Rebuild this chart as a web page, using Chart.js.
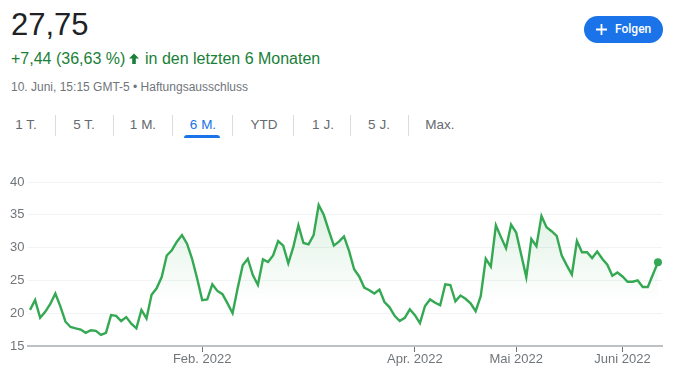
<!DOCTYPE html>
<html lang="de">
<head>
<meta charset="utf-8">
<script src="https://cdn.jsdelivr.net/npm/chart.js@4.4.0/dist/chart.umd.min.js"></script>
<style>
  html, body { margin: 0; padding: 0; background: #fff; }
  body { width: 693px; height: 374px; position: relative; overflow: hidden;
         font-family: "Liberation Sans", Arial, sans-serif; }
  .price { position: absolute; left: 11px; top: 9px; font-size: 31px; line-height: 31px; color: #202124; }
  .change { position: absolute; left: 11px; top: 51px; font-size: 16px; line-height: 16px; color: #188038;
            white-space: nowrap; }
  .change svg { position: absolute; left: 117px; top: 1px; }
  .change .rest { position: absolute; left: 134px; top: 0; }
  .stamp { position: absolute; left: 11px; top: 81px; font-size: 12px; line-height: 12px; color: #70757a;
           white-space: nowrap; }
  .tab { position: absolute; top: 118px; font-size: 13.5px; line-height: 14px; color: #666a70;
         transform: translateX(-50%); white-space: nowrap; }
  .tab.active { color: #1a73e8; }
  .sep { position: absolute; top: 115px; width: 1px; height: 21px; background: #dadce0; }
  .underline { position: absolute; left: 184px; top: 135px; width: 36px; height: 3px;
               background: #1a73e8; border-radius: 3px 3px 0 0; }
  .follow { position: absolute; left: 584px; top: 16px; width: 79px; height: 27px; border-radius: 14px;
            background: #1a73e8; color: #fff; font-family: Roboto, sans-serif; font-weight: 500; font-size: 12px; }
  .follow svg { position: absolute; left: 12px; top: 8px; }
  .follow span { position: absolute; left: 31px; top: 7px; line-height: 13px; }
  .chart-wrap { position: absolute; left: 0; top: 170px; width: 693px; height: 204px; }
</style>
</head>
<body>
<div class="price">27,75</div>
<div class="change">+7,44 (36,63 %)
  <svg width="12" height="13" viewBox="0 0 12 13"><path d="M6 1.5L1 6.5h3.2V12h3.6V6.5H11z" fill="#188038"/></svg>
  <span class="rest">in den letzten 6 Monaten</span>
</div>
<div class="stamp">10. Juni, 15:15 GMT-5 • Haftungsausschluss</div>

<div class="tab" style="left:26px">1 T.</div>
<div class="sep" style="left:55px"></div>
<div class="tab" style="left:84px">5 T.</div>
<div class="sep" style="left:113px"></div>
<div class="tab" style="left:143px">1 M.</div>
<div class="sep" style="left:172px"></div>
<div class="tab active" style="left:203px">6 M.</div>
<div class="sep" style="left:232px"></div>
<div class="tab" style="left:264px">YTD</div>
<div class="sep" style="left:293px"></div>
<div class="tab" style="left:323px">1 J.</div>
<div class="sep" style="left:350px"></div>
<div class="tab" style="left:379px">5 J.</div>
<div class="sep" style="left:408px"></div>
<div class="tab" style="left:440px">Max.</div>
<div class="underline"></div>

<div class="follow">
  <svg width="11" height="11" viewBox="0 0 11 11"><path d="M5.5 0v11M0 5.5h11" stroke="#fff" stroke-width="1.8"/></svg>
  <span>Folgen</span>
</div>

<div class="chart-wrap"><canvas id="priceChart" width="693" height="204"></canvas></div>

<script>
// daily closes, 13 Dec 2021 - 10 Jun 2022
const prices = [
  20.5, 22.0, 19.3, 20.2, 21.4, 23.0, 21.0, 18.7, 17.9, 17.7,
  17.5, 17.0, 17.4, 17.3, 16.7, 17.0, 19.7, 19.6, 18.8, 19.4,
  18.4, 17.7, 20.5, 19.2, 22.8, 23.8, 25.5, 28.8, 29.6, 30.9,
  31.9, 30.6, 28.3, 25.3, 22.0, 22.1, 24.4, 23.4, 22.9, 21.5,
  20.0, 23.8, 27.3, 28.3, 25.8, 24.3, 28.2, 27.8, 28.8, 31.0,
  30.3, 27.6, 30.1, 33.4, 30.7, 30.5, 31.9, 36.5, 35.0, 32.6,
  30.3, 30.9, 31.7, 29.5, 26.7, 25.6, 23.9, 23.5, 23.0, 23.6,
  21.7, 20.9, 19.6, 18.8, 19.3, 20.6, 19.7, 18.5, 21.1, 22.1,
  21.6, 21.2, 24.4, 24.3, 21.8, 22.7, 22.2, 21.5, 20.3, 22.6,
  28.3, 27.1, 33.4, 31.6, 29.9, 33.5, 32.3, 28.9, 25.5, 31.3,
  30.2, 34.8, 33.1, 32.5, 31.8, 28.8, 27.3, 25.9, 31.0, 29.3,
  29.3, 28.4, 29.4, 28.3, 27.4, 25.7, 26.2, 25.6, 24.8, 24.8,
  25.0, 24.0, 24.0, 25.9, 27.75
];

// month ticks as trading-day index
const tickIndex = [34, 76, 96, 117];
const tickLabels = ['Feb. 2022', 'Apr. 2022', 'Mai 2022', 'Juni 2022'];
const yTicks = [15, 20, 25, 30, 35, 40];

const green = '#34a853';
const lastIdx = prices.length - 1;

new Chart(document.getElementById('priceChart'), {
  type: 'line',
  data: {
    datasets: [{
      data: prices.map((v, i) => ({ x: i, y: v })),
      borderColor: green,
      borderWidth: 2.4,
      tension: 0,
      fill: 'start',
      backgroundColor: (ctx) => {
        const { chart } = ctx;
        const area = chart.chartArea;
        if (!area) return 'transparent';
        const g = chart.ctx.createLinearGradient(0, area.top + 20, 0, 132);
        g.addColorStop(0, 'rgba(52, 168, 83, 0.17)');
        g.addColorStop(1, 'rgba(52, 168, 83, 0)');
        return g;
      },
      pointRadius: (ctx) => ctx.dataIndex === lastIdx ? 4 : 0,
      pointBackgroundColor: green,
      pointBorderWidth: 0
    }]
  },
  options: {
    responsive: false,
    animation: false,
    layout: { padding: { top: 12, right: 31, left: 0, bottom: 0 } },
    plugins: {
      legend: { display: false },
      tooltip: { enabled: false }
    },
    scales: {
      x: {
        type: 'linear',
        min: -0.5,
        max: 124.8,
        afterBuildTicks: (scale) => { scale.ticks = tickIndex.map(v => ({ value: v })); },
        afterFit: (scale) => { scale.height = 28; },
        grid: { drawOnChartArea: false, drawTicks: true, tickLength: 6, color: '#70757a', lineWidth: 1 },
        border: { display: true, color: '#bdc1c6', width: 2 },
        ticks: {
          autoSkip: false,
          maxRotation: 0,
          padding: 0,
          color: '#70757a',
          font: { size: 13, family: "'Liberation Sans', Arial, sans-serif" },
          callback: (value) => tickLabels[tickIndex.indexOf(value)]
        }
      },
      y: {
        min: 15,
        max: 40,
        afterBuildTicks: (scale) => { scale.ticks = yTicks.map(v => ({ value: v })); },
        afterFit: (scale) => { scale.width = 27.5; },
        grid: { color: '#f1f3f4', drawTicks: false },
        border: { display: false },
        ticks: {
          padding: 3,
          color: '#70757a',
          font: { size: 13, family: "'Liberation Sans', Arial, sans-serif" }
        }
      }
    }
  }
});
</script>
</body>
</html>
